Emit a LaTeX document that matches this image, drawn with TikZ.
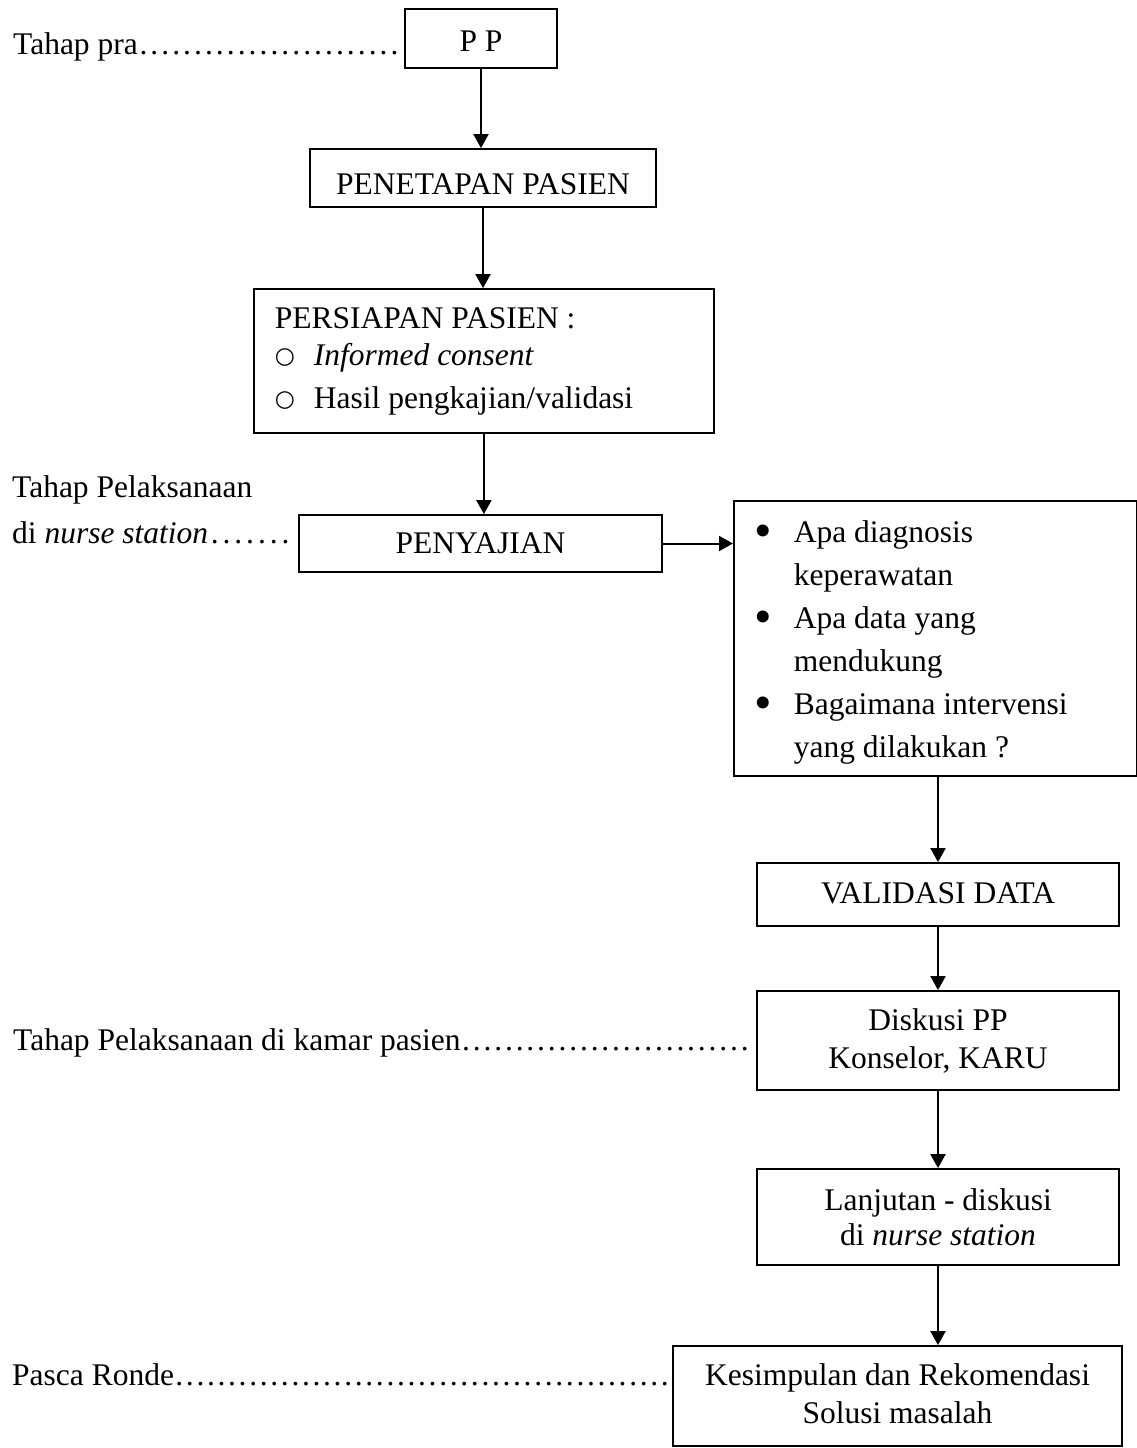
\documentclass[tikz,border=0pt]{standalone}
\usepackage{fontspec}
\setmainfont{Liberation Serif}
\newfontfamily\ringfont{DejaVu Sans}
\usetikzlibrary{arrows.meta}

% dot leaders spaced like an ellipsis
\newcommand\leaderdots{\xleaders\hbox to 0.3333em{\hss.\hss}\hfill}
\newcommand\dotlabel[2]{\hbox to #1{#2\leaderdots}}
% centred lines with a fixed baseline distance
\newcommand\stacklines[2]{\vtop{\baselineskip=#1\relax\lineskiplimit=-100pt
  \halign{\hfil##\hfil\cr#2\crcr}}}
% list markers
\newcommand\ringitem{\hbox to 39pt{\raisebox{2pt}{\ringfont\fontsize{23}{23}\selectfont ○}\hfil}}
\newcommand\dotitem{\hbox to 36.5pt{\hskip-3pt\raisebox{-5pt}{\fontsize{50}{50}\selectfont •}\hfil}}
\newcommand\hangitem{\hskip36.5pt\relax}

\begin{document}
\begin{tikzpicture}[x=1pt, y=-1pt,
  every node/.style={font=\fontsize{31.5}{43}\selectfont},
  box/.style={draw, line width=1.8pt, inner ysep=0pt, inner xsep=0pt, anchor=base},
  flow/.style={line width=2pt, -{Triangle[length=14pt, width=15pt]}},
  side/.style={inner sep=0pt, anchor=base west}]
\useasboundingbox (0,0) rectangle (1137,1448);

% main column
\node[box, minimum width=152pt, text height=42pt, text depth=17pt] (pp) at (481,51) {P P};
\node[box, minimum width=346pt, text height=45pt, text depth=13pt] (fix) at (483,194) {PENETAPAN PASIEN};
\node[box, anchor=base west, inner xsep=21pt, text height=39pt, text depth=105pt] (prep) at (253,328)
  {\hbox to 418pt{\vtop{\baselineskip=37pt\lineskiplimit=-100pt
    \hbox{PERSIAPAN PASIEN :}
    \hbox{\ringitem\textit{Informed consent}}
    \vskip6pt
    \hbox{\ringitem Hasil pengkajian/validasi}}\hfil}};
\node[box, minimum width=363pt, text height=38pt, text depth=19pt] (show) at (480.5,553) {PENYAJIAN};
\node[box, anchor=base west, inner xsep=23.5pt, text height=41pt, text depth=234pt] (ask) at (733,542)
  {\hbox to 356pt{\vtop{\baselineskip=43pt\lineskiplimit=-100pt
    \hbox{\dotitem Apa diagnosis}
    \hbox{\hangitem keperawatan}
    \hbox{\dotitem Apa data yang}
    \hbox{\hangitem mendukung}
    \hbox{\dotitem Bagaimana intervensi}
    \hbox{\hangitem yang dilakukan ?}}\hfil}};
\node[box, minimum width=362pt, text height=40pt, text depth=23pt] (valid) at (938,903) {VALIDASI DATA};
\node[box, minimum width=362pt, text height=39pt, text depth=60pt] (disc) at (938,1030)
  {\stacklines{38pt}{Diskusi PP\cr Konselor, KARU}};
\node[box, minimum width=362pt, text height=41pt, text depth=55pt] (next) at (938,1210)
  {\stacklines{35pt}{Lanjutan - diskusi\cr di \textit{nurse station}}};
\node[box, minimum width=449pt, text height=39pt, text depth=61pt] (sum) at (897.5,1385)
  {\stacklines{38pt}{Kesimpulan dan Rekomendasi\cr Solusi masalah}};

% stage labels
\node[side] (pre) at (13,54) {\dotlabel{387pt}{Tahap pra}};
\node[side] (impl) at (12,497) {Tahap Pelaksanaan};
\node[side] (implns) at (12,543) {\dotlabel{280pt}{di \textit{nurse station}}};
\node[side] (implroom) at (13,1050) {\dotlabel{737pt}{Tahap Pelaksanaan di kamar pasien}};
\node[side] (post) at (12,1385) {\dotlabel{658pt}{Pasca Ronde}};

% connectors
\draw[flow] (pp.south) -- (pp.south |- fix.north);
\draw[flow] (fix.south) -- (fix.south |- prep.north);
\draw[flow] (prep.south) -- (prep.south |- show.north);
\draw[flow] (show.east) -- (show.east -| ask.west);
\draw[flow] (valid.north |- ask.south) -- (valid.north);
\draw[flow] (valid.south) -- (disc.north);
\draw[flow] (disc.south) -- (next.north);
\draw[flow] (next.south) -- (next.south |- sum.north);
\end{tikzpicture}
\end{document}
